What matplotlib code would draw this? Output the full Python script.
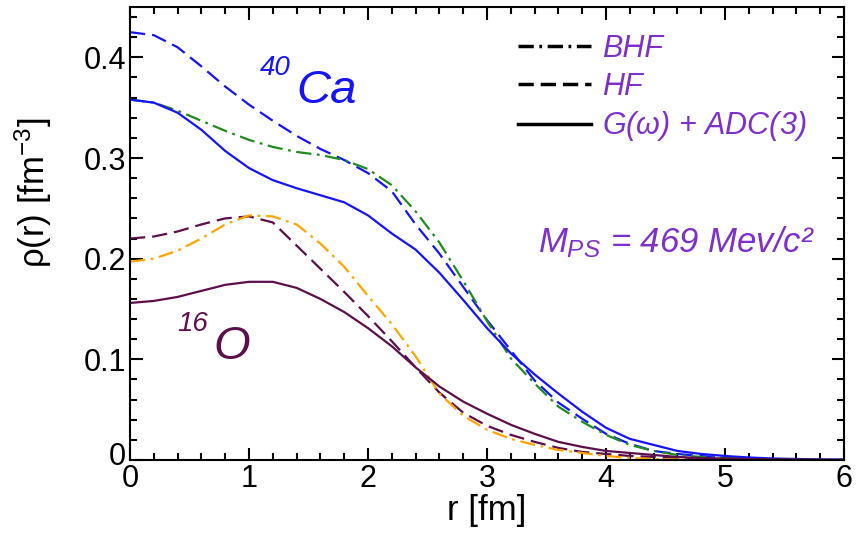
import numpy as np
import matplotlib
matplotlib.use("Agg")
import matplotlib.pyplot as plt
import matplotlib.transforms as mtransforms
from matplotlib.lines import Line2D
from matplotlib.ticker import MultipleLocator

plt.rcParams['font.family'] = ['Liberation Sans', 'DejaVu Sans']
plt.rcParams['mathtext.fontset'] = 'custom'
plt.rcParams['mathtext.rm'] = 'Liberation Sans'
plt.rcParams['mathtext.it'] = 'Liberation Sans:italic'
plt.rcParams['lines.scale_dashes'] = False

## radial grid (fm)
r = np.round(np.arange(0, 6.01, 0.2), 1)

## 40Ca densities
ca_adc3 = [0.358, 0.355, 0.345, 0.328, 0.307, 0.290, 0.278, 0.270, 0.263, 0.256,
           0.243, 0.225, 0.209, 0.186, 0.159, 0.131, 0.106, 0.085, 0.066, 0.048,
           0.032, 0.021, 0.015, 0.009, 0.006, 0.004, 0.0025, 0.0015, 0.001, 0.0005, 0.0003]
ca_hf = [0.425, 0.422, 0.410, 0.391, 0.371, 0.353, 0.337, 0.322, 0.309, 0.298,
         0.285, 0.267, 0.234, 0.205, 0.172, 0.139, 0.109, 0.079, 0.057, 0.041,
         0.026, 0.016, 0.009, 0.006, 0.004, 0.002, 0.001, 0.0006, 0.0003, 0.0002, 0.0001]
ca_bhf = [0.358, 0.355, 0.347, 0.337, 0.327, 0.318, 0.311, 0.306, 0.303, 0.298,
          0.289, 0.273, 0.247, 0.216, 0.178, 0.138, 0.101, 0.076, 0.053, 0.038,
          0.025, 0.015, 0.009, 0.005, 0.003, 0.002, 0.001, 0.0005, 0.0003, 0.0002, 0.0001]

## 16O densities
o_adc3 = [0.156, 0.158, 0.162, 0.168, 0.174, 0.177, 0.177, 0.171, 0.160, 0.147,
          0.131, 0.113, 0.092, 0.073, 0.058, 0.046, 0.035, 0.026, 0.018, 0.013,
          0.009, 0.007, 0.005, 0.003, 0.002, 0.0015, 0.001, 0.0006, 0.0004, 0.0002, 0.0001]
o_hf = [0.220, 0.222, 0.227, 0.234, 0.240, 0.242, 0.236, 0.213, 0.190, 0.167,
        0.143, 0.118, 0.092, 0.067, 0.047, 0.034, 0.025, 0.018, 0.012, 0.008,
        0.006, 0.004, 0.003, 0.002, 0.001, 0.0005, 0.0003, 0.0002, 0.0001, 0.0, 0.0]
o_bhf = [0.197, 0.200, 0.208, 0.220, 0.234, 0.243, 0.242, 0.234, 0.215, 0.192,
         0.163, 0.135, 0.103, 0.066, 0.044, 0.030, 0.021, 0.015, 0.010, 0.007,
         0.004, 0.002, 0.001, 0.0005, 0.0003, 0.0002, 0.0001, 0.0, 0.0, 0.0, 0.0]

legend_labels = ["BHF", "HF", r"G($\omega$) + ADC(3)"]

blue = '#1414ff'
green = '#1e8c1e'
maroon = '#5c0f4b'
orange = '#ffa500'
purple = '#7f30cc'

dashed = (0, (11, 5))
dashdot = (0, (11, 4, 2, 4))


def main():
    fig = plt.figure(figsize=(8.61, 5.39), dpi=100)
    ax = fig.add_axes([130/861, 1 - 460/539, 714/861, 453/539])

    lw = 1.6
    ax.plot(r, ca_hf, color=blue, lw=lw, ls=dashed)
    ax.plot(r, ca_bhf, color=green, lw=lw, ls=dashdot)
    ax.plot(r, ca_adc3, color=blue, lw=lw)
    ax.plot(r, o_hf, color=maroon, lw=lw, ls=dashed)
    ax.plot(r, o_bhf, color=orange, lw=lw, ls=dashdot)
    ax.plot(r, o_adc3, color=maroon, lw=lw)

    ax.set_xlim(0, 6)
    ax.set_ylim(0, 0.45)
    ax.xaxis.set_major_locator(MultipleLocator(1))
    ax.xaxis.set_minor_locator(MultipleLocator(0.2))
    ax.yaxis.set_major_locator(MultipleLocator(0.1))
    ax.yaxis.set_minor_locator(MultipleLocator(0.02))
    ax.set_yticks([0, 0.1, 0.2, 0.3, 0.4])
    ax.set_yticklabels(["0", "0.1", "0.2", "0.3", "0.4"])
    ax.tick_params(which='both', direction='in', top=True, right=True,
                   labelsize=22, width=1.5)
    ax.tick_params(which='major', length=9, pad=3)
    ax.tick_params(which='minor', length=5)
    for s in ax.spines.values():
        s.set_linewidth(1.5)

    ## lift the y "0" a little so it just touches the x "0"
    lab0 = ax.get_yticklabels()[0]
    lab0.set_transform(lab0.get_transform() +
                       mtransforms.ScaledTranslation(0, 5/72, fig.dpi_scale_trans))

    ax.set_xlabel("r [fm]", fontsize=25, labelpad=0)
    ax.set_ylabel(r"ρ(r) [fm$^{-3}$]", fontsize=25)
    ax.yaxis.set_label_coords(-0.106, 0.59)

    ## nucleus labels
    ax.text(1.09, 0.382, "40", color=blue, fontsize=20, style='italic')
    ax.text(1.40, 0.355, "Ca", color=blue, fontsize=34, style='italic')
    ax.text(0.40, 0.128, "16", color=maroon, fontsize=20, style='italic')
    ax.text(0.70, 0.100, "O", color=maroon, fontsize=34, style='italic')

    ax.text(3.43, 0.206, r"$\mathit{M}_{\mathit{PS}}$ = 469 Mev/c²",
            color=purple, fontsize=25, style='italic')

    handles = [Line2D([], [], color='k', lw=2.5, ls=dashdot),
               Line2D([], [], color='k', lw=2.5, ls=dashed),
               Line2D([], [], color='k', lw=2.5)]
    ax.legend(handles, legend_labels, loc='upper left',
              bbox_to_anchor=(0.543, 0.94), frameon=False,
              prop={'size': 22, 'style': 'italic'}, labelcolor=purple,
              handlelength=2.4, handletextpad=0.35, labelspacing=0.25,
              borderpad=0, borderaxespad=0)

    fig.savefig("out.png", dpi=100)


if __name__ == "__main__":
    main()
